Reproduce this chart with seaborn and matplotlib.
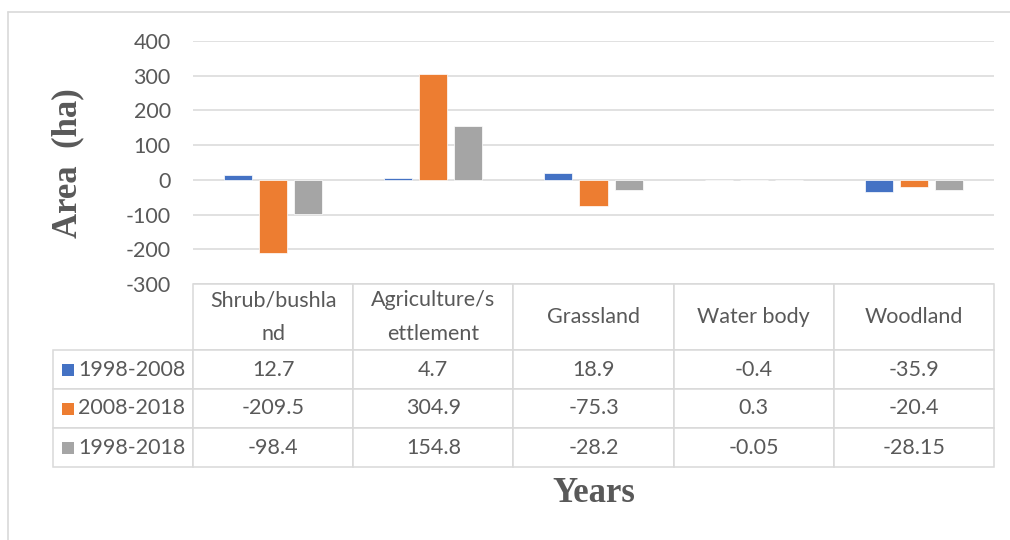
import matplotlib
matplotlib.use("Agg")
import matplotlib.pyplot as plt
from matplotlib.table import Table
from matplotlib.patches import Rectangle
from matplotlib.lines import Line2D
import pandas as pd
import seaborn as sns

categories = ["Shrub/bushland", "Agriculture/settlement", "Grassland", "Water body", "Woodland"]
header_labels = ["Shrub/bushla\nnd", "Agriculture/s\nettlement", "Grassland", "Water body", "Woodland"]
periods = ["1998-2008", "2008-2018", "1998-2018"]
vals_1998_2008 = [12.7, 4.7, 18.9, -0.4, -35.9]
vals_2008_2018 = [-209.5, 304.9, -75.3, 0.3, -20.4]
vals_1998_2018 = [-98.4, 154.8, -28.2, -0.05, -28.15]
table_text = [
    ["12.7", "4.7", "18.9", "-0.4", "-35.9"],
    ["-209.5", "304.9", "-75.3", "0.3", "-20.4"],
    ["-98.4", "154.8", "-28.2", "-0.05", "-28.15"],
]
yticks = [-300, -200, -100, 0, 100, 200, 300, 400]
colors = ["#4472C4", "#ED7D31", "#A5A5A5"]

series = [vals_1998_2008, vals_2008_2018, vals_1998_2018]
df = pd.DataFrame({
    "category": [c for s in series for c in categories],
    "value": [v for s in series for v in s],
    "period": [p for p, s in zip(periods, series) for _ in s],
})

sns.set_theme(style="white")
plt.rcParams["font.family"] = ["Lato", "DejaVu Sans"]
plt.rcParams["axes.unicode_minus"] = False

TXT = "#595959"
GRID = "#D9D9D9"
FS = 15.5
W, H = 1010, 540
fig = plt.figure(figsize=(W / 100, H / 100), dpi=100)
fig.patch.set_facecolor("white")

ax_l, ax_r, ax_t, ax_b = 193, 994, 41, 284
ax = fig.add_axes([ax_l / W, 1 - ax_b / H, (ax_r - ax_l) / W, (ax_b - ax_t) / H])

sns.barplot(data=df, x="category", y="value", hue="period", hue_order=periods,
            palette=colors, saturation=1, width=0.656, gap=0.2, legend=False, ax=ax,
            edgecolor="white", linewidth=0.5, errorbar=None)

ax.set_ylim(-300, 400)
ax.set_xlim(-0.5, len(categories) - 0.5)
ax.set_yticks(yticks)
ax.set_yticklabels([str(t) for t in yticks])
ax.tick_params(axis="y", length=0, pad=16, labelsize=FS, labelcolor=TXT)
ax.set_xticks([])
ax.set_xlabel("")
ax.set_ylabel("")
ax.set_axisbelow(True)
ax.yaxis.grid(True, color=GRID, linewidth=1.1)
for sp in ax.spines.values():
    sp.set_visible(False)

# data table
tab_l = 53
col0_w = ax_l - tab_l
cat_w = (ax_r - ax_l) / len(categories)
hdr_h, row_h = 66, 39
tab_h = hdr_h + 3 * row_h
tbl = Table(ax, bbox=[(tab_l - ax_l) / (ax_r - ax_l), -tab_h / (ax_b - ax_t),
                      (ax_r - tab_l) / (ax_r - ax_l), tab_h / (ax_b - ax_t)])
for j, lab in enumerate(header_labels):
    tbl.add_cell(0, j + 1, width=cat_w, height=hdr_h, text=lab, loc="center",
                 edgecolor=GRID, facecolor="white")
for i, p in enumerate(periods):
    c = tbl.add_cell(i + 1, 0, width=col0_w, height=row_h, text=p, loc="right",
                     edgecolor=GRID, facecolor="white")
    c.PAD = 0.055
    for j in range(len(categories)):
        tbl.add_cell(i + 1, j + 1, width=cat_w, height=row_h, text=table_text[i][j],
                     loc="center", edgecolor=GRID, facecolor="white")
tbl.auto_set_font_size(False)
tbl.set_fontsize(FS)
for cell in tbl.get_celld().values():
    cell.set_linewidth(1.1)
    cell.get_text().set_color(TXT)
    cell.get_text().set_linespacing(1.85)
ax.add_table(tbl)

# legend keys in the row-label column
for i, col in enumerate(colors):
    yc = ax_b + hdr_h + row_h * (i + 0.5)
    fig.add_artist(Rectangle((62 / W, 1 - (yc + 6) / H), 12 / W, 12 / H,
                             transform=fig.transFigure, facecolor=col, edgecolor="none"))

# axis titles
fig.text(68 / W, 1 - 163 / H, "Area  (ha)", rotation=90, ha="center", va="center",
         fontsize=25, fontweight="bold", color=TXT, family=["Liberation Serif", "DejaVu Serif"])
fig.text(594 / W, 1 - 493 / H, "Years", ha="center", va="center",
         fontsize=25, fontweight="bold", color=TXT, family=["Liberation Serif", "DejaVu Serif"])

# chart frame
fig.add_artist(Line2D([8 / W, 1], [1 - 12 / H, 1 - 12 / H], transform=fig.transFigure,
                      color=GRID, linewidth=1.2))
fig.add_artist(Line2D([8 / W, 8 / W], [0, 1 - 12 / H], transform=fig.transFigure,
                      color=GRID, linewidth=1.2))

fig.savefig("out.png", dpi=100, facecolor="white")
